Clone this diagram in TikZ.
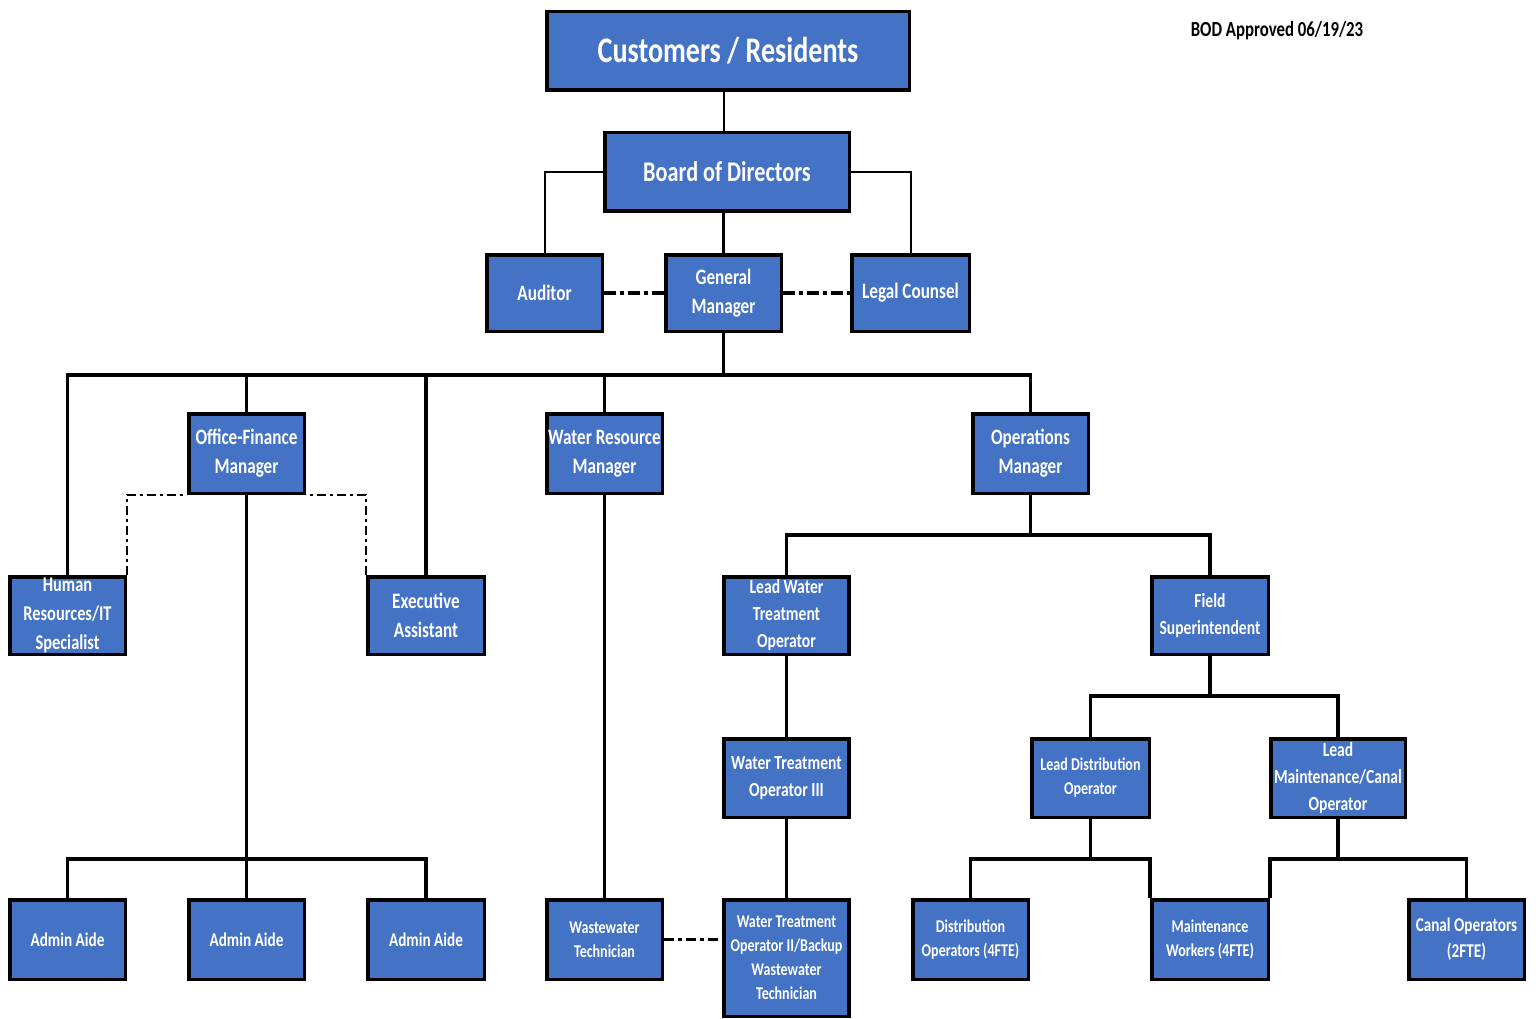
\documentclass[tikz,border=0pt]{standalone}
\usepackage{fontspec}
\setmainfont{Carlito}[FakeStretch=0.78]
\newcommand\fsz[2]{\fontsize{#1pt}{#2pt}\selectfont}
\definecolor{boxblue}{HTML}{4472C4}
\begin{document}
\begin{tikzpicture}[x=1pt,y=-1pt,
  box/.style={draw=black, line width=3.5pt, fill=boxblue, text=white, align=center,
    inner sep=0pt, minimum width=115.5pt, minimum height=78.5pt, font=\bfseries\fsz{22}{29}},
  smallbox/.style={box, font=\bfseries\fsz{20}{27}},
  tinybox/.style={box, font=\bfseries\fsz{18}{24}},
  thin/.style={line width=2pt},
  thick/.style={line width=3.5pt},
  gmdash/.style={line width=4pt, dash pattern=on 12pt off 4pt on 4pt off 4pt},
  ofdash/.style={line width=2pt, dash pattern=on 9pt off 4pt on 3pt off 4pt},
  wwdash/.style={line width=2.5pt, dash pattern=on 10pt off 4pt on 4pt off 4pt}]
\useasboundingbox (0,0) rectangle (1536,1019);

% nodes
\node[box, minimum width=362.5pt, font=\bfseries\fsz{36}{40}] (cust) at (728,51) {Customers / Residents};
\node[box, minimum width=244.5pt, font=\bfseries\fsz{28.5}{32}] (board) at (727,172) {Board of Directors};
\node[box, minimum height=76.5pt] (aud) at (544.5,293) {Auditor};
\node[box, minimum height=76.5pt] (gm) at (723.5,293) {General\\Manager};
\node[box, minimum width=117.5pt, minimum height=76.5pt] (legal) at (910.5,293) {Legal Counsel};

\node[box, minimum height=79.5pt] (ofm) at (246.5,453.5) {Office-Finance\\Manager};
\node[box, minimum height=79.5pt] (wrm) at (604.5,453.5) {Water Resource\\Manager};
\node[box, minimum height=79.5pt] (opsm) at (1030.5,453.5) {Operations\\Manager};

\node[box, minimum height=77.5pt, font=\bfseries\fsz{21}{29}] (hr) at (67.5,615.5) {Human\\Resources/IT\\Specialist};
\node[box, minimum height=77.5pt, minimum width=116.5pt] (exec) at (426,615.5) {Executive\\Assistant};
\node[smallbox, minimum height=77.5pt, minimum width=125pt] (lwto) at (786.5,615.5) {Lead Water\\Treatment\\Operator};
\node[smallbox, minimum height=77.5pt, minimum width=116.5pt] (fs) at (1210,615.5) {Field\\Superintendent};

\node[smallbox, minimum width=125pt] (wto3) at (786.5,778) {Water Treatment\\Operator III};
\node[tinybox, minimum width=117.5pt] (ldo) at (1090.5,778) {Lead Distribution\\Operator};
\node[smallbox, minimum width=134.5pt] (lmc) at (1338,778) {Lead\\Maintenance/Canal\\Operator};

\node[box, minimum height=79.5pt, font=\bfseries\fsz{19.5}{24}] (aa1) at (67.5,939.5) {Admin Aide};
\node[box, minimum height=79.5pt, font=\bfseries\fsz{19.5}{24}] (aa2) at (246.5,939.5) {Admin Aide};
\node[box, minimum height=79.5pt, minimum width=116.5pt, font=\bfseries\fsz{19.5}{24}] (aa3) at (426,939.5) {Admin Aide};
\node[tinybox, minimum height=79.5pt] (wwt) at (604.5,939.5) {Wastewater\\Technician};
\node[tinybox, minimum height=116.5pt, minimum width=125pt] (wto2) at (786.5,958) {Water Treatment\\Operator II/Backup\\Wastewater\\Technician};
\node[tinybox, minimum height=79.5pt] (do) at (970.5,939.5) {Distribution\\Operators (4FTE)};
\node[tinybox, minimum height=79.5pt, minimum width=116.5pt] (mw) at (1210,939.5) {Maintenance\\Workers (4FTE)};
\node[tinybox, minimum height=79.5pt, font=\bfseries\fsz{19.5}{26}] (co) at (1466.5,939.5) {Canal Operators\\(2FTE)};

\node[font=\bfseries\fsz{21.5}{24}, text=black] (bod) at (1277,31) {BOD Approved 06/19/23};

% bus coordinates
\coordinate (gmbus) at (0,375);
\coordinate (abus) at (0,859);
\coordinate (opbus) at (0,535);
\coordinate (fsbus) at (0,696);
\coordinate (lowbus) at (0,859);

% connectors
\draw[thin] (cust.south -| gm.north) -- (gm.north |- board.north);
\draw[thin] (board.west) -| (aud.north);
\draw[thin] (board.east) -| (legal.north);
\draw[thick] (gm.north |- board.south) -- (gm.north);
\draw[gmdash] (aud.east) -- (gm.west);
\draw[gmdash] (gm.east) -- (legal.west);

\draw[thick] (gm.south) -- (gm.south|-gmbus) -| (hr.north);
\draw[thick] (gm.south|-gmbus) -| (ofm.north);
\draw[thick] (gm.south|-gmbus) -| (exec.north);
\draw[thick] (gm.south|-gmbus) -| (wrm.north);
\draw[thick] (gm.south|-gmbus) -| (opsm.north);

\draw[ofdash] (hr.north east) |- (ofm.south west);
\draw[ofdash] (exec.north west) |- (ofm.south east);

\draw[thick] (ofm.south) -- (ofm.south|-abus) -| (aa1.north);
\draw[thick] (ofm.south|-abus) -- (aa2.north);
\draw[thick] (ofm.south|-abus) -| (aa3.north);

\draw[thick] (wrm.south) -- (wwt.north);
\draw[wwdash] (wwt.east) -- (wwt.east-|wto2.west);

\draw[thick] (opsm.south) -- (opsm.south|-opbus) -| (lwto.north);
\draw[thick] (opsm.south|-opbus) -| (fs.north);
\draw[thick] (lwto.south) -- (wto3.north);
\draw[thick] (wto3.south) -- (wto2.north);

\draw[thick] (fs.south) -- (fs.south|-fsbus) -| (ldo.north);
\draw[thick] (fs.south|-fsbus) -| (lmc.north);

\draw[thick] (ldo.south) -- (ldo.south|-lowbus) -| (do.north);
\draw[thick] (ldo.south|-lowbus) -| (mw.north west);
\draw[thick] (lmc.south) -- (lmc.south|-lowbus) -| (mw.north east);
\draw[thick] (lmc.south|-lowbus) -| (co.north);
\end{tikzpicture}
\end{document}
